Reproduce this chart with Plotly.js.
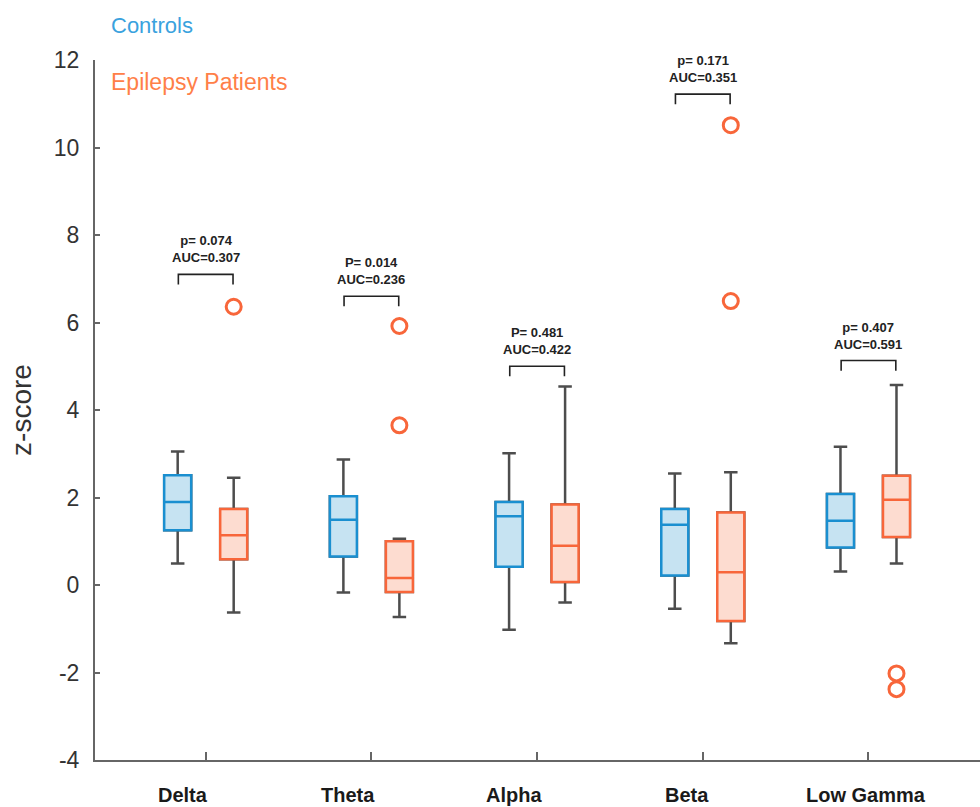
<!DOCTYPE html>
<html>
<head>
<meta charset="utf-8">
<script src="https://cdn.plot.ly/plotly-3.0.1.min.js"></script>
<style>html,body{margin:0;padding:0;background:#fff;}#chart{width:980px;height:807px;}</style>
</head>
<body>
<div id="chart"></div>
<script>
// ---- data ----
var categories = ['Delta', 'Theta', 'Alpha', 'Beta', 'Low Gamma'];

var ctrlLow  = [0.49, -0.17, -1.02, -0.54, 0.31];
var ctrlQ1   = [1.25, 0.65, 0.42, 0.22, 0.86];
var ctrlMed  = [1.90, 1.49, 1.57, 1.38, 1.47];
var ctrlQ3   = [2.51, 2.03, 1.90, 1.74, 2.08];
var ctrlHigh = [3.05, 2.87, 3.01, 2.55, 3.16];

var patLow  = [-0.63, -0.73, -0.40, -1.33, 0.49];
var patQ1   = [0.59, -0.16, 0.07, -0.82, 1.10];
var patMed  = [1.14, 0.16, 0.90, 0.29, 1.95];
var patQ3   = [1.74, 1.00, 1.84, 1.66, 2.50];
var patHigh = [2.45, 1.06, 4.54, 2.58, 4.57];

var outlierCat = [0, 1, 1, 3, 3, 4, 4];
var outlierVal = [6.36, 5.92, 3.65, 10.51, 6.49, -2.02, -2.38];

var pText   = ['p= 0.074', 'P= 0.014', 'P= 0.481', 'p= 0.171', 'p= 0.407'];
var aucText = ['AUC=0.307', 'AUC=0.236', 'AUC=0.422', 'AUC=0.351', 'AUC=0.591'];
var bracketTop = [7.10, 6.60, 5.00, 11.22, 5.13];

var yTickVals = [-4, -2, 0, 2, 4, 6, 8, 10, 12];
var yTickText = ['-4', '-2', '0', '2', '4', '6', '8', '10', '12'];

// ---- styling / placement ----
var FONT = 'Liberation Sans, Arial, sans-serif';
var ctrlLine = '#1a8fd0', ctrlFill = '#c6e3f2';
var patLine = '#f8663a', patFill = '#fddcd0';
var whiskerCol = '#4d4d4d';
var OFF = 0.169, BW = 0.163;
var labelShiftPx = [-23, -23, -23, -16, -2];   // category labels sit left of their ticks in the reference

var idx = categories.map(function (c, i) { return i; });
var xCtrl = idx.map(function (i) { return i - OFF; });
var xPat = idx.map(function (i) { return i + OFF; });

function whiskerBox(x, lo, q1, med, q3, hi) {
  return {
    type: 'box', x: x, q1: q1, median: med, q3: q3, lowerfence: lo, upperfence: hi,
    width: BW, whiskerwidth: 0.5, boxpoints: false,
    line: {color: whiskerCol, width: 2.5}, fillcolor: 'rgba(0,0,0,0)',
    hoverinfo: 'skip', showlegend: false
  };
}
function colorBox(x, q1, med, q3, lc, fc) {
  return {
    type: 'box', x: x, q1: q1, median: med, q3: q3, lowerfence: q1, upperfence: q3,
    width: BW, whiskerwidth: 0, boxpoints: false,
    line: {color: lc, width: 2.5}, fillcolor: fc,
    hoverinfo: 'skip', showlegend: false
  };
}

var traces = [
  whiskerBox(xCtrl, ctrlLow, ctrlQ1, ctrlMed, ctrlQ3, ctrlHigh),
  whiskerBox(xPat, patLow, patQ1, patMed, patQ3, patHigh),
  colorBox(xCtrl, ctrlQ1, ctrlMed, ctrlQ3, ctrlLine, ctrlFill),
  colorBox(xPat, patQ1, patMed, patQ3, patLine, patFill),
  {
    type: 'scatter', mode: 'markers',
    x: outlierCat.map(function (i) { return i + OFF; }), y: outlierVal,
    marker: {symbol: 'circle-open', size: 15, color: patLine, line: {width: 3, color: patLine}},
    hoverinfo: 'skip', showlegend: false
  }
];

var shapes = [], annotations = [];
idx.forEach(function (i) {
  var yt = bracketTop[i], yl = yt - 0.23;
  var x0 = i - 0.165, x1 = i + 0.165;
  shapes.push({
    type: 'path', xref: 'x', yref: 'y',
    path: 'M' + x0 + ',' + yl + ' L' + x0 + ',' + yt + ' L' + x1 + ',' + yt + ' L' + x1 + ',' + yl,
    line: {color: '#222', width: 1.6}
  });
  annotations.push({
    xref: 'x', yref: 'y', x: i, y: yt, xanchor: 'center', yanchor: 'bottom', yshift: 7,
    text: '<b>' + pText[i] + '<br>' + aucText[i] + '</b>', showarrow: false,
    font: {family: FONT, size: 13, color: '#222'}
  });
  annotations.push({
    xref: 'x', yref: 'paper', x: i, y: 0, xanchor: 'center', yanchor: 'top',
    xshift: labelShiftPx[i], yshift: -22,
    text: '<b>' + categories[i] + '</b>', showarrow: false,
    font: {family: FONT, size: 20, color: '#1a1a1a'}
  });
});

annotations.push({
  xref: 'paper', yref: 'paper', x: 0, y: 1, xanchor: 'left', yanchor: 'middle',
  xshift: 14, yshift: 35, text: 'Controls', showarrow: false,
  font: {family: FONT, size: 22, color: '#3aa2de'}
});
annotations.push({
  xref: 'paper', yref: 'paper', x: 0, y: 1, xanchor: 'left', yanchor: 'middle',
  xshift: 14, yshift: -22, text: 'Epilepsy Patients', showarrow: false,
  font: {family: FONT, size: 23, color: '#ff8048'}
});

var layout = {
  width: 980, height: 807,
  margin: {l: 95, r: 0, t: 60, b: 47},
  paper_bgcolor: '#fff', plot_bgcolor: '#fff',
  showlegend: false, boxmode: 'overlay',
  xaxis: {
    range: [-0.668, 4.673], tickmode: 'array', tickvals: idx, showticklabels: false,
    showgrid: false, zeroline: false, showline: true, linecolor: '#666', linewidth: 2,
    ticks: 'inside', ticklen: 8, tickwidth: 2, tickcolor: '#666'
  },
  yaxis: {
    range: [-4, 12], tickmode: 'array', tickvals: yTickVals, ticktext: yTickText,
    showgrid: false, zeroline: false, showline: true, linecolor: '#666', linewidth: 2,
    ticks: 'inside', ticklen: 5, tickwidth: 2, tickcolor: '#666',
    ticklabelstandoff: 9,
    tickfont: {family: FONT, size: 23, color: '#333'},
    title: {text: 'z-score', font: {family: FONT, size: 28, color: '#333'}, standoff: 14}
  },
  shapes: shapes,
  annotations: annotations
};

Plotly.newPlot('chart', traces, layout, {displayModeBar: false, staticPlot: true});
</script>
</body>
</html>
